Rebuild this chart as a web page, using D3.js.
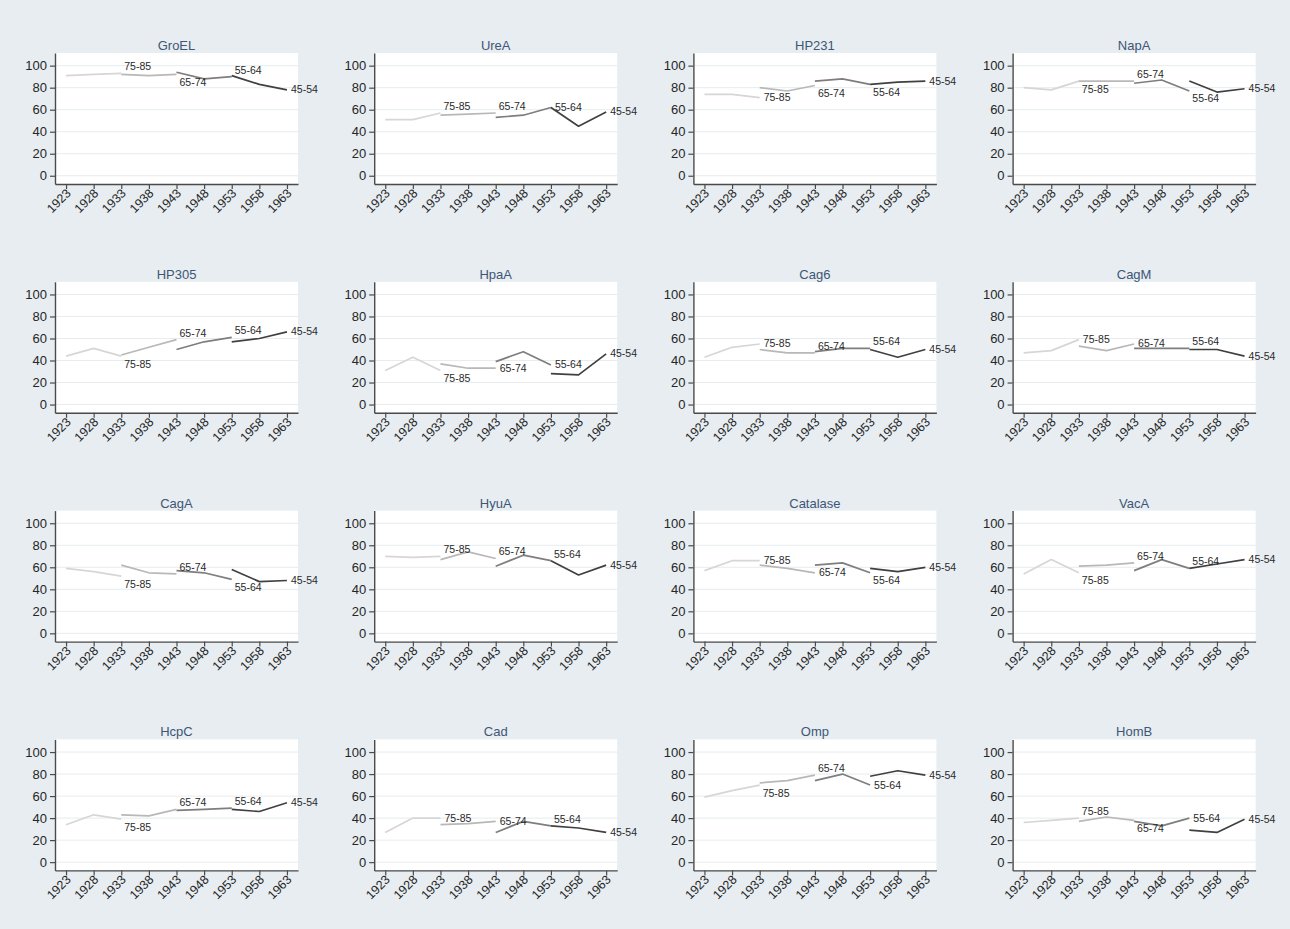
<!DOCTYPE html>
<html>
<head>
<meta charset="utf-8">
<script src="https://cdn.jsdelivr.net/npm/d3@7"></script>
<style>
  body { margin: 0; background: #e8eef2; }
  svg { display: block; font-family: "Liberation Sans", Arial, sans-serif; }
</style>
</head>
<body>
<svg id="chart" width="1290" height="929"></svg>
<script>
// Antibody seroprevalence (%) by birth cohort, one line piece per age group.
const markers = ["GroEL", "UreA", "HP231", "NapA",
                 "HP305", "HpaA", "Cag6", "CagM",
                 "CagA", "HyuA", "Catalase", "VacA",
                 "HcpC", "Cad", "Omp", "HomB"];

const tickYears = [1923, 1928, 1933, 1938, 1943, 1948, 1953, 1958, 1963];
const yTicks = [0, 20, 40, 60, 80, 100];

const ageGroups = ["75-85", "65-74", "55-64", "45-54"];
// birth years covered by each age group
const cohortYears = [
  [1923, 1928, 1933],
  [1933, 1938, 1943],
  [1943, 1948, 1953],
  [1953, 1958, 1963]
];

// values per marker: one triple per age group (75-85, 65-74, 55-64, 45-54)
const groEL    = [[91, 92, 93], [92, 91, 92], [94, 88, 90], [91, 83, 78]];
const ureA     = [[51, 51, 57], [55, 56, 57], [53, 55, 62], [62, 45, 58]];
const hp231    = [[74, 74, 71], [80, 77, 82], [86, 88, 83], [83, 85, 86]];
const napA     = [[80, 78, 86], [86, 86, 86], [84, 87, 77], [86, 76, 79]];
const hp305    = [[44, 51, 44], [45, 52, 59], [50, 57, 61], [57, 60, 66]];
const hpaA     = [[31, 43, 31], [37, 33, 33], [39, 48, 36], [28, 27, 46]];
const cag6     = [[43, 52, 55], [50, 47, 47], [48, 51, 51], [50, 43, 50]];
const cagM     = [[47, 49, 59], [53, 49, 55], [51, 51, 51], [50, 50, 44]];
const cagA     = [[59, 56, 52], [62, 55, 54], [57, 55, 49], [58, 47, 48]];
const hyuA     = [[70, 69, 70], [67, 74, 68], [61, 71, 66], [66, 53, 62]];
const catalase = [[57, 66, 66], [62, 59, 55], [62, 64, 55], [59, 56, 60]];
const vacA     = [[54, 67, 55], [61, 62, 64], [57, 67, 59], [59, 63, 67]];
const hcpC     = [[34, 43, 39], [43, 42, 48], [47, 48, 49], [48, 46, 54]];
const cad      = [[27, 40, 40], [34, 35, 37], [27, 37, 33], [33, 31, 27]];
const omp      = [[59, 65, 70], [72, 74, 79], [74, 80, 70], [78, 83, 79]];
const homB     = [[36, 38, 40], [37, 41, 38], [37, 33, 40], [29, 27, 39]];

const seriesValues = [groEL, ureA, hp231, napA, hp305, hpaA, cag6, cagM,
                      cagA, hyuA, catalase, vacA, hcpC, cad, omp, homB];

// where each age-group label sits next to the end of its line piece
const labelSides = [
  ["above", "below", "above", "right"],
  ["above", "above", "right", "right"],
  ["right", "below", "below", "right"],
  ["below", "above", "below", "right"],
  ["below", "above", "above", "right"],
  ["below", "right", "right", "right"],
  ["right", "above", "above", "right"],
  ["right", "right", "above", "right"],
  ["below", "above", "below", "right"],
  ["above", "above", "above", "right"],
  ["right", "right", "below", "right"],
  ["below", "above", "above", "right"],
  ["below", "above", "above", "right"],
  ["right", "right", "above", "right"],
  ["below", "above", "right", "right"],
  ["above", "below", "right", "right"]
];

const segColors = ["#d6d6d6", "#b8b8b8", "#7e7e7e", "#404040"];

// ---- layout ----
const svg = d3.select("#chart");
svg.append("rect").attr("width", 1290).attr("height", 929).attr("fill", "#e7edf1");

const colX0 = 55, colStep = 319.2;
const rowY0 = 53, rowStep = 228.8;
const plotW = 243, plotH = 131;

const x = d3.scaleLinear().domain([1921, 1965]).range([0, plotW]);
const y = d3.scaleLinear().domain([-7.5, 111.5]).range([plotH, 0]);

const line = d3.line().x(d => x(d[0])).y(d => y(d[1]));

markers.forEach((name, i) => {
  const col = i % 4, row = Math.floor(i / 4);
  const g = svg.append("g")
    .attr("transform", `translate(${colX0 + col * colStep},${rowY0 + row * rowStep})`);

  // plot region
  g.append("rect").attr("width", plotW).attr("height", plotH).attr("fill", "#ffffff");

  // horizontal grid
  g.selectAll("line.grid").data(yTicks).join("line")
    .attr("class", "grid")
    .attr("x1", 0).attr("x2", plotW)
    .attr("y1", d => y(d)).attr("y2", d => y(d))
    .attr("stroke", "#e6ecef").attr("stroke-width", 1);

  // title
  g.append("text")
    .attr("x", plotW / 2).attr("y", -3)
    .attr("text-anchor", "middle")
    .attr("font-size", 13)
    .attr("fill", "#3e5676")
    .text(name);

  // y axis
  const yAxis = g.append("g")
    .call(d3.axisLeft(y).tickValues(yTicks).tickSize(5).tickSizeOuter(0).tickPadding(3));
  yAxis.selectAll("text").attr("font-size", 13).attr("fill", "#262626")
    .attr("font-family", "'Liberation Sans', Arial, sans-serif");

  // x axis
  const xAxis = g.append("g")
    .attr("transform", `translate(0,${plotH})`)
    .call(d3.axisBottom(x).tickValues(tickYears).tickFormat(d3.format("d"))
      .tickSize(5).tickSizeOuter(0));
  xAxis.selectAll("text")
    .attr("x", 0).attr("y", 0).attr("dy", 0)
    .attr("transform", "translate(5,10) rotate(-45)")
    .style("text-anchor", "end")
    .attr("font-size", 12.5).attr("fill", "#262626")
    .attr("font-family", "'Liberation Sans', Arial, sans-serif");

  [yAxis, xAxis].forEach(ax => {
    ax.select(".domain").attr("stroke", "#4a4a4a").attr("stroke-width", 1.4);
    ax.selectAll(".tick line").attr("stroke", "#4a4a4a").attr("stroke-width", 1.2);
  });

  // one line piece per age group
  const vals = seriesValues[i];
  vals.forEach((seg, k) => {
    const pts = cohortYears[k].map((yr, j) => [yr, seg[j]]);
    g.append("path")
      .datum(pts)
      .attr("d", line)
      .attr("fill", "none")
      .attr("stroke", segColors[k])
      .attr("stroke-width", 1.7)
      .attr("stroke-linejoin", "round");
  });

  // age-group labels at the end of each piece
  vals.forEach((seg, k) => {
    const px = x(cohortYears[k][2]);
    const py = y(seg[2]);
    const side = labelSides[i][k];
    let lx = px + 3, ly = py;
    if (side === "above") ly = py - 3;
    else if (side === "below") ly = py + 11.5;
    else { lx = px + 4; ly = py + 3.5; }
    g.append("text")
      .attr("x", lx).attr("y", ly)
      .attr("font-size", 10.5)
      .attr("fill", "#2a2a2a")
      .text(ageGroups[k]);
  });
});
</script>
</body>
</html>
